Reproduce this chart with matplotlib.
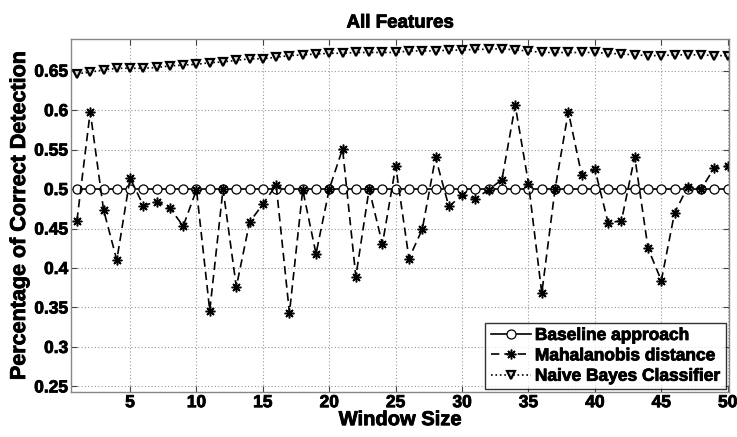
import matplotlib
matplotlib.use("Agg")
import matplotlib.pyplot as plt
import matplotlib.patheffects as pe
import numpy as np

window = list(range(1, 51))
baseline = [0.5] * 50
mahalanobis = [0.460, 0.598, 0.474, 0.410, 0.514, 0.479, 0.484, 0.476, 0.453, 0.499,
               0.346, 0.500, 0.376, 0.458, 0.481, 0.505, 0.343, 0.499, 0.418, 0.500,
               0.551, 0.389, 0.500, 0.430, 0.529, 0.412, 0.449, 0.540, 0.478, 0.492,
               0.488, 0.499, 0.512, 0.606, 0.507, 0.368, 0.500, 0.598, 0.518, 0.525,
               0.457, 0.460, 0.541, 0.425, 0.384, 0.470, 0.503, 0.500, 0.527, 0.529]
naive_bayes = [0.646, 0.648, 0.651, 0.653, 0.653, 0.653, 0.654, 0.656, 0.657, 0.658,
               0.660, 0.661, 0.663, 0.665, 0.665, 0.667, 0.669, 0.670, 0.671, 0.672,
               0.672, 0.673, 0.673, 0.673, 0.673, 0.675, 0.675, 0.675, 0.676, 0.676,
               0.677, 0.677, 0.678, 0.676, 0.675, 0.673, 0.673, 0.673, 0.673, 0.673,
               0.672, 0.671, 0.670, 0.669, 0.669, 0.670, 0.670, 0.670, 0.669, 0.669]
xticks = [5, 10, 15, 20, 25, 30, 35, 40, 45, 50]
yticks = [0.25, 0.3, 0.35, 0.4, 0.45, 0.5, 0.55, 0.6, 0.65]
ytick_labels = ["0.25", "0.3", "0.35", "0.4", "0.45", "0.5", "0.55", "0.6", "0.65"]

plt.rcParams['font.family'] = ['Liberation Sans', 'DejaVu Sans']
plt.rcParams['font.weight'] = 'bold'

thick = [pe.withStroke(linewidth=0.6, foreground='black')]

fig = plt.figure(figsize=(7.37, 4.37), dpi=100)
ax = fig.add_axes([0.0963, 0.1021, 0.8929, 0.8094])

ax.plot(window, baseline, '-', color='black', lw=1.2, marker='o', ms=6.5,
        mfc='white', mec='black', mew=0.9, label='Baseline approach')
ax.plot(window, mahalanobis, '--', color='black', lw=1.2, marker=(8, 2, 0), ms=7,
        mfc='black', mec='black', mew=1.1, label='Mahalanobis distance', dashes=(5, 3))
ax.plot(window, naive_bayes, ':', color='black', lw=1.2, marker='v', ms=6.3,
        mfc='#dddddd', mec='black', mew=1.6, label='Naive Bayes Classifier')

ax.set_xlim(0.55, 50.1)
ax.set_ylim(0.2424, 0.6905)
ax.set_xticks(xticks)
ax.set_yticks(yticks)
ax.set_yticklabels(ytick_labels)
ax.tick_params(direction='in', top=True, right=True, labelsize=12.5, length=4,
               color='#444444', pad=2)
for lbl in ax.get_xticklabels() + ax.get_yticklabels():
    lbl.set_fontweight('bold')
    lbl.set_path_effects(thick)
ax.grid(True, linestyle=(0, (1, 2)), color='#999999', lw=0.8)
for s in ax.spines.values():
    s.set_color('#888888')
    s.set_linewidth(1.0)

t = ax.set_title('All Features', fontsize=13.5, fontweight='bold', pad=8)
t.set_path_effects(thick)
xl = ax.set_xlabel('Window Size', fontsize=14.5, fontweight='bold', labelpad=0)
xl.set_path_effects(thick)
yl = ax.set_ylabel('Percentage of Correct Detection', fontsize=15.5, fontweight='bold', labelpad=3)
yl.set_path_effects(thick)

leg = ax.legend(loc='lower right', fontsize=12.5, frameon=True, fancybox=False,
                edgecolor='black', handlelength=2.3, handletextpad=0.25,
                borderpad=0.3, labelspacing=0.3, borderaxespad=0.2)
leg.get_frame().set_linewidth(1.0)
for tx in leg.get_texts():
    tx.set_fontweight('bold')
    tx.set_path_effects(thick)

fig.savefig('out.png', dpi=100)
